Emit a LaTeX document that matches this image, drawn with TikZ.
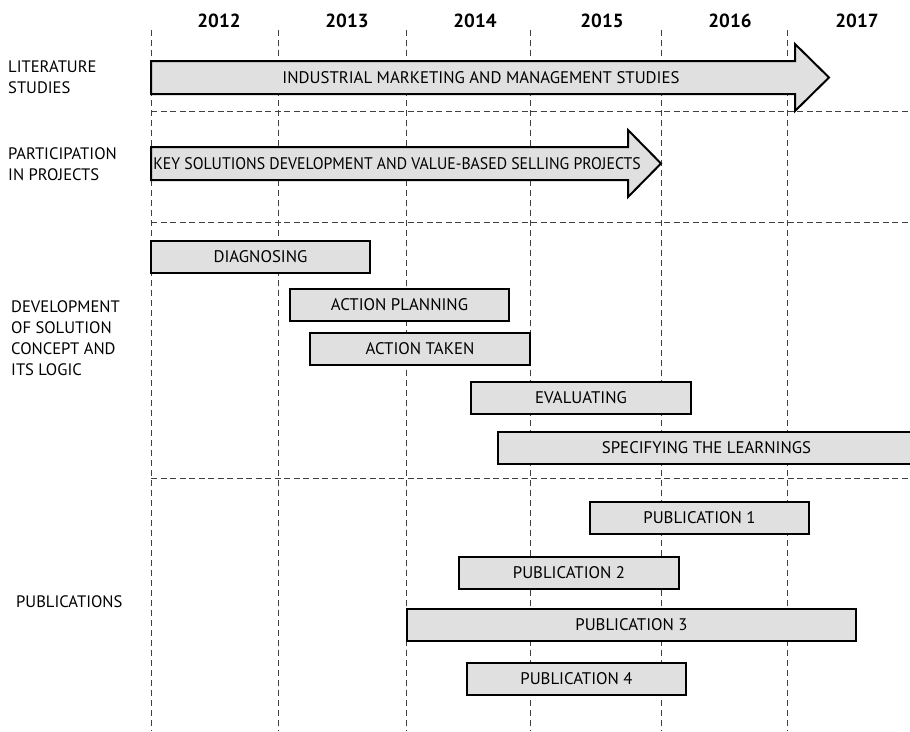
\documentclass[tikz,border=0pt]{standalone}
\usepackage{fontspec}
\setmainfont{PT Sans}
\begin{document}
\begin{tikzpicture}[x=1pt,y=-1pt,
  grid/.style={draw=black!75, line width=0.9pt, dash pattern=on 6pt off 4pt},
  hgrid/.style={draw=black!75, line width=0.9pt, dash pattern=on 6pt off 3.5pt},
  bar/.style={draw=black, line width=2pt, fill=black!12, minimum height=32pt, inner sep=0pt, font=\fontsize{16.8}{18}\selectfont},
  year/.style={font=\fontsize{19}{20}\selectfont\bfseries, anchor=center},
  rowlabel/.style={anchor=west, align=left, inner sep=0pt, font=\fontsize{16.6}{21}\selectfont},
  btext/.style={font=\fontsize{16.8}{18}\selectfont, inner sep=0pt}]
\useasboundingbox (0,0) rectangle (910,731);
% year labels
\node[year] (y12) at (219,21) {2012};
\node[year] (y13) at (347,21) {2013};
\node[year] (y14) at (475,21) {2014};
\node[year] (y15) at (602,21) {2015};
\node[year] (y16) at (730,21) {2016};
\node[year] (y17) at (857,21) {2017};
% grid
\foreach \x in {151,278,406,530,661,787} \draw[grid] (\x,30) -- (\x,731);
\foreach \y in {111,222,478} \draw[hgrid] (151,\y) -- (910,\y);
% row labels
\node[rowlabel] (l1) at (8,77.5) {LITERATURE\\STUDIES};
\node[rowlabel] (l2) at (8,164.5) {PARTICIPATION\\IN PROJECTS};
\node[rowlabel] (l3) at (11,338) {DEVELOPMENT\\OF SOLUTION\\CONCEPT AND\\ITS LOGIC};
\node[rowlabel] (l4) at (16,602) {PUBLICATIONS};
% arrows
\draw[line width=2pt, fill=black!12, line join=miter]
  (151,61) -- (795,61) -- (795,44) -- (829,77.5) -- (795,111) -- (795,94) -- (151,94) -- cycle;
\node[btext] (a1) at (481,77.5) {INDUSTRIAL MARKETING AND MANAGEMENT STUDIES};
\draw[line width=2pt, fill=black!12, line join=miter]
  (151,147) -- (628,147) -- (628,130) -- (661,163.5) -- (628,197) -- (628,180) -- (151,180) -- cycle;
\node[btext] (a2) at (397,163.5) {\scalebox{0.94}[1]{KEY SOLUTIONS DEVELOPMENT AND VALUE-BASED SELLING PROJECTS}};
% development boxes
\node[bar, minimum width=219pt] (diag) at (260.5,257) {DIAGNOSING};
\node[bar, minimum width=219pt] (plan) at (399.5,305) {ACTION PLANNING};
\node[bar, minimum width=220pt] (take) at (420,349) {ACTION TAKEN};
\node[bar, minimum width=220pt] (eval) at (581,398) {EVALUATING};
\node[bar, minimum width=417pt] (spec) at (706.5,448) {SPECIFYING THE LEARNINGS};
% publications
\node[bar, minimum width=219pt] (p1) at (699.5,518) {PUBLICATION 1};
\node[bar, minimum width=220pt] (p2) at (569,573) {PUBLICATION 2};
\node[bar, minimum width=449pt] (p3) at (631.5,624.5) {PUBLICATION 3};
\node[bar, minimum width=219pt] (p4) at (576.5,678.5) {PUBLICATION 4};
\end{tikzpicture}
\end{document}
